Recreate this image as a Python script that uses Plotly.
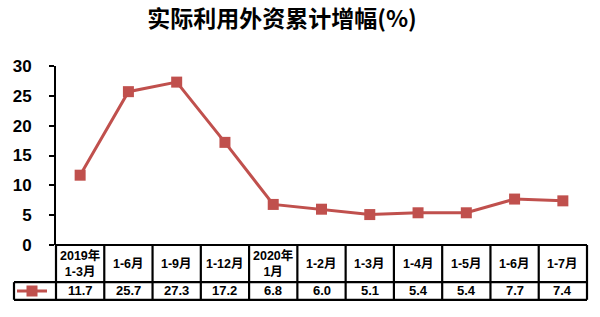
import plotly.graph_objects as go

categories = ["2019年<br>1-3月", "1-6月", "1-9月", "1-12月", "2020年<br>1月",
              "1-2月", "1-3月", "1-4月", "1-5月", "1-6月", "1-7月"]
values = [11.7, 25.7, 27.3, 17.2, 6.8, 6.0, 5.1, 5.4, 5.4, 7.7, 7.4]
value_labels = ["11.7", "25.7", "27.3", "17.2", "6.8", "6.0", "5.1", "5.4", "5.4", "7.7", "7.4"]
y_ticks = [0, 5, 10, 15, 20, 25, 30]

W, H = 600, 317
L, R, T, B = 56, 13, 66, 68
pw = W - L - R
ph = H - T - B

def py(px):  # pixel y -> paper y
    return (H - B - px) / ph

def px_(x):  # pixel x -> paper x
    return (x - L) / pw

color = "#C0504D"
n = len(categories)
xs = list(range(n))

fig = go.Figure()
fig.add_trace(go.Scatter(
    x=xs, y=values, mode="lines+markers", name=" ",
    line=dict(color=color, width=3),
    marker=dict(symbol="square", size=11, color=color),
    showlegend=True,
))

shapes = []
lw = 2.2
y_top = py(249)
y_mid = py(287)
y_bot = py(305)
shapes.append(dict(type="line", xref="paper", yref="paper", x0=0, x1=1, y0=y_top, y1=y_top,
                   line=dict(color="black", width=lw)))
shapes.append(dict(type="line", xref="paper", yref="paper", x0=px_(14), x1=1, y0=y_mid, y1=y_mid,
                   line=dict(color="black", width=lw)))
shapes.append(dict(type="line", xref="paper", yref="paper", x0=px_(14), x1=1, y0=y_bot, y1=y_bot,
                   line=dict(color="black", width=lw)))
for i in range(n + 1):
    xp = i / n
    shapes.append(dict(type="line", xref="paper", yref="paper", x0=xp, x1=xp, y0=y_top, y1=y_bot,
                       line=dict(color="black", width=lw)))
shapes.append(dict(type="line", xref="paper", yref="paper", x0=px_(14), x1=px_(14), y0=y_mid, y1=y_bot,
                   line=dict(color="black", width=lw)))

fam = "Arial, 'Noto Sans CJK SC'"
annotations = []
for i in range(n):
    xc = (i + 0.5) / n
    annotations.append(dict(x=xc, y=(y_top + y_mid) / 2, xref="paper", yref="paper",
                            text="<b>" + categories[i] + "</b>", showarrow=False,
                            font=dict(size=12.5, color="black", family=fam),
                            xanchor="center", yanchor="middle"))
    annotations.append(dict(x=xc, y=(y_mid + y_bot) / 2 + 0.005, xref="paper", yref="paper",
                            text="<b>" + value_labels[i] + "</b>", showarrow=False,
                            font=dict(size=13, color="black", family=fam),
                            xanchor="center", yanchor="middle"))

fig.update_layout(
    width=W, height=H,
    margin=dict(l=L, r=R, t=T, b=B),
    paper_bgcolor="white", plot_bgcolor="white",
    title=dict(text="<b>实际利用外资累计增幅(%)</b>", x=282 / W, xanchor="center",
               y=1 - 19 / H, yanchor="middle",
               font=dict(size=23, color="black", family="'Noto Sans CJK SC'")),
    xaxis=dict(range=[-0.5, n - 0.5], showticklabels=False, showgrid=False, zeroline=False,
               showline=False, ticks=""),
    yaxis=dict(range=[0, 30], tickvals=y_ticks, showgrid=False, zeroline=False,
               showline=True, linecolor="black", linewidth=2, ticks="outside", ticklen=5,
               tickwidth=2, tickcolor="black", ticklabelstandoff=14,
               tickfont=dict(size=17, color="black", family="Arial", weight="bold"),
               ),
    shapes=shapes,
    annotations=annotations,
    legend=dict(x=px_(12), y=(y_mid + y_bot) / 2, xanchor="left", yanchor="middle",
                bgcolor="rgba(0,0,0,0)", itemwidth=30, font=dict(size=1),
                tracegroupgap=0),
    showlegend=True,
)

fig.write_html("out.html")
